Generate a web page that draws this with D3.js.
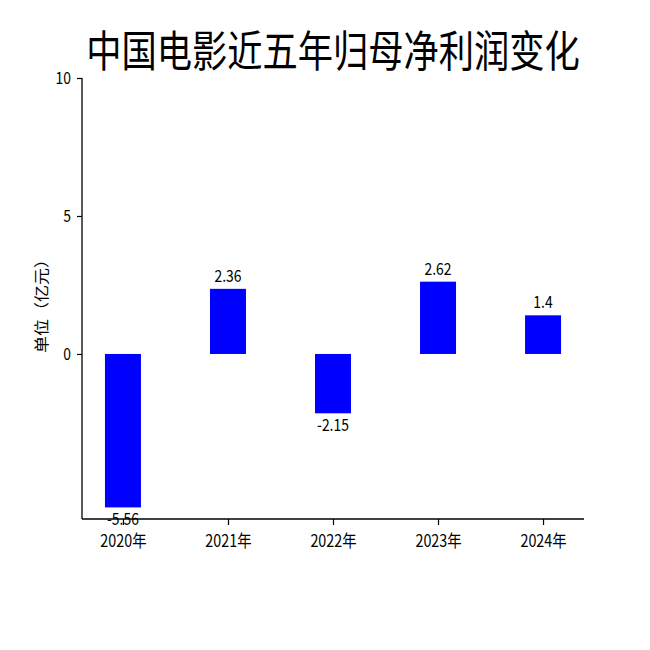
<!DOCTYPE html>
<html>
<head>
<meta charset="utf-8">
<script src="https://cdn.jsdelivr.net/npm/d3@7"></script>
<style>
  body { margin: 0; background: #fff; }
  text { font-family: "Noto Sans CJK SC", "Noto Sans", sans-serif; fill: #000; }
</style>
</head>
<body>
<div id="app"></div>
<script>
// data
const years = ["2020年", "2021年", "2022年", "2023年", "2024年"];
const profit = [-5.56, 2.36, -2.15, 2.62, 1.4];
const profitLabels = ["-5.56", "2.36", "-2.15", "2.62", "1.4"];
const yTicks = [0, 5, 10];

const W = 650, H = 650;
const plot = {left: 82, right: 584, top: 78, bottom: 519};
const sx = 0.82; // condensed look of the original font

const svg = d3.select("#app").append("svg")
    .attr("width", W)
    .attr("height", H);

// scales
const x = d3.scalePoint()
    .domain(years)
    .range([plot.left, plot.right])
    .padding(0.39);

const y = d3.scaleLinear()
    .domain([-5.98, 10])
    .range([plot.bottom, plot.top]);

const barW = 36;

// bars
svg.append("g")
    .selectAll("rect")
    .data(profit)
    .enter().append("rect")
        .attr("x", (d, i) => x(years[i]) - barW / 2)
        .attr("y", d => y(Math.max(d, 0)))
        .attr("width", barW)
        .attr("height", d => Math.abs(y(d) - y(0)))
        .attr("fill", "#0000ff");

// value labels
svg.append("g")
    .selectAll("text")
    .data(profit)
    .enter().append("text")
        .attr("transform", (d, i) => {
            const ty = d >= 0 ? y(d) - 7 : y(d) + 18;
            return `translate(${x(years[i])},${ty}) scale(${sx},1)`;
        })
        .attr("text-anchor", "middle")
        .style("font-size", "17px")
        .text((d, i) => profitLabels[i]);

// y axis
const yAxis = svg.append("g")
    .attr("transform", `translate(${plot.left},0)`)
    .call(d3.axisLeft(y).tickValues(yTicks).tickSize(5).tickPadding(4).tickSizeOuter(0));
yAxis.select(".domain").attr("stroke", "#000").attr("stroke-width", 1.3)
    .attr("d", `M0,${plot.top}V${plot.bottom}`);
yAxis.selectAll(".tick line").attr("stroke-width", 1.2);
yAxis.selectAll(".tick text")
    .style("font-size", "17px")
    .attr("transform", `scale(${sx},1)`)
    .attr("x", -11 / sx);

// x axis
const xAxis = svg.append("g")
    .attr("transform", `translate(0,${plot.bottom})`)
    .call(d3.axisBottom(x).tickSize(6).tickPadding(10).tickSizeOuter(0));
xAxis.select(".domain").attr("stroke", "#000").attr("stroke-width", 1.3)
    .attr("d", `M${plot.left},0H${plot.right}`);
xAxis.selectAll(".tick line").attr("stroke-width", 1.2);
xAxis.selectAll(".tick text")
    .style("font-size", "17.5px")
    .attr("transform", `scale(${sx},1)`);

// y label
svg.append("text")
    .attr("transform", "translate(47,302) rotate(-90) scale(1,0.9)")
    .attr("text-anchor", "middle")
    .style("font-size", "17px")
    .text("单位（亿元）");

// title
svg.append("text")
    .attr("transform", `translate(333,67) scale(${sx},1)`)
    .attr("text-anchor", "middle")
    .style("font-size", "43px")
    .text("中国电影近五年归母净利润变化");
</script>
</body>
</html>
